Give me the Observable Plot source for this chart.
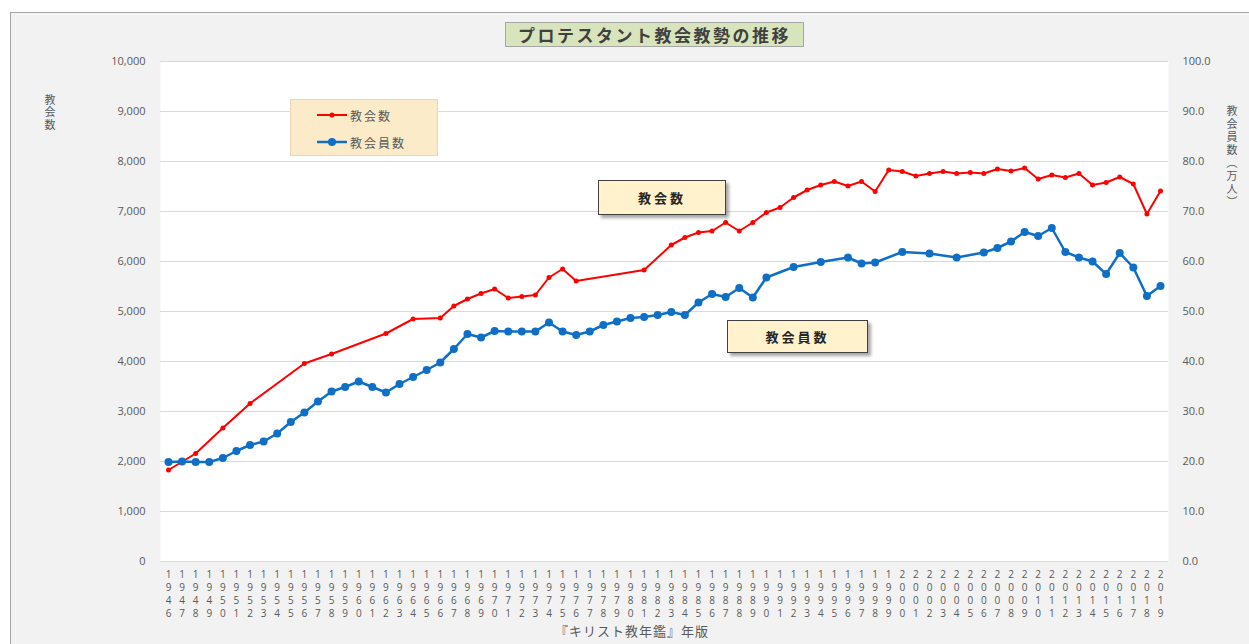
<!DOCTYPE html>
<html><head><meta charset="utf-8">
<script src="https://cdn.jsdelivr.net/npm/d3@7"></script>
<script src="https://cdn.jsdelivr.net/npm/@observablehq/plot@0.6"></script>
<style>
html,body{margin:0;padding:0;background:#fff;}
#wrap{position:relative;width:1249px;height:644px;overflow:hidden;font-family:"Noto Sans CJK JP","Open Sans",sans-serif;}
#bg{position:absolute;left:10px;top:12px;width:1260px;height:660px;background:#f2f2f2;border:1px solid #a6a6a6;}
#chart{position:absolute;left:0;top:0;}
.abs{position:absolute;box-sizing:border-box;}
#title{left:505px;top:22px;width:299px;height:25px;background:#d8e4bc;border:1px solid #a6a6a6;color:#404040;font-weight:bold;font-size:17px;letter-spacing:2.5px;text-align:center;line-height:23px;}
#legend{left:290px;top:99px;width:148px;height:57px;background:#fcebc8;border:1px solid #e6d8b8;color:#595959;font-size:12px;letter-spacing:2px;}
#legend .row{position:absolute;left:26px;height:16px;display:flex;align-items:center;}
#legend svg{margin-right:3px;}
.note{background:#fff2cc;border:1px solid #404040;box-shadow:3px 3px 3px rgba(0,0,0,0.35);color:#262626;font-weight:bold;font-size:13px;letter-spacing:3px;text-align:center;}
.vlab{writing-mode:vertical-rl;text-orientation:upright;font-size:11px;color:#595959;line-height:14px;letter-spacing:1.5px;white-space:nowrap;}
#ylab{left:43px;top:94px;}
#y2lab{left:1225px;top:105px;letter-spacing:2px;}
#xlab{left:555px;top:623px;font-size:13px;line-height:16px;color:#595959;letter-spacing:1px;}
</style></head>
<body>
<div id="wrap">
  <div id="bg"></div>
  <div id="chart"></div>
  <div id="title" class="abs">プロテスタント教会教勢の推移</div>
  <div id="legend" class="abs">
    <div class="row" style="top:7px"><svg width="30" height="8"><line x1="0" y1="4" x2="30" y2="4" stroke="#ff0000" stroke-width="2"/><circle cx="15" cy="4" r="2.5" fill="#ff0000"/></svg>教会数</div>
    <div class="row" style="top:34px"><svg width="30" height="10"><line x1="0" y1="5" x2="30" y2="5" stroke="#0f6fc6" stroke-width="2.5"/><circle cx="15" cy="5" r="4" fill="#0f6fc6"/></svg>教会員数</div>
  </div>
  <div class="abs note" style="left:598px;top:180px;width:128px;height:35px;line-height:33px;">教会数</div>
  <div class="abs note" style="left:727px;top:320px;width:141px;height:33px;line-height:31px;">教会員数</div>
  <div id="ylab" class="abs vlab">教会数</div>
  <div id="y2lab" class="abs vlab">教会員数（万人）</div>
  <div id="xlab" class="abs">『キリスト教年鑑』年版</div>
</div>
<script>
// X axis categories (年版)
const years = d3.range(1946, 2020);
// Y tick values (left: 教会数; right shown as 万人 = value/100)
const yTicks = d3.range(0, 10001, 1000);

// 教会数 series
const churchYears = [1946,1948,1950,1952,1956,1958,1962,1964,1966,1967,1968,1969,1970,1971,1972,1973,1974,1975,1976,1981,
  1983,1984,1985,1986,1987,1988,1989,1990,1991,1992,1993,1994,1995,1996,1997,1998,1999,2000,2001,2002,2003,2004,2005,2006,
  2007,2008,2009,2010,2011,2012,2013,2014,2015,2016,2017,2018,2019];
const churches = [1830,2160,2670,3160,3960,4150,4560,4850,4870,5110,5250,5360,5450,5270,5300,5330,5680,5850,5610,5830,
  6330,6480,6580,6610,6780,6610,6780,6980,7080,7280,7430,7530,7600,7510,7600,7400,7830,7800,7710,7760,7800,7760,7780,7760,
  7850,7810,7870,7650,7730,7680,7760,7530,7580,7690,7550,6950,7410];

// 教会員数 series (万人)
const memberYears = [1946,1947,1948,1949,1950,1951,1952,1953,1954,1955,1956,1957,1958,1959,1960,1961,1962,1963,1964,1965,
  1966,1967,1968,1969,1970,1971,1972,1973,1974,1975,1976,1977,1978,1979,1980,1981,1982,1983,1984,1985,1986,1987,1988,1989,
  1990,1992,1994,1996,1997,1998,2000,2002,2004,2006,2007,2008,2009,2010,2011,2012,2013,2014,2015,2016,2017,2018,2019];
const members = [19.9,20.0,19.9,19.9,20.7,22.1,23.3,24.0,25.6,27.9,29.8,32.0,34.0,34.9,36.0,34.9,33.8,35.5,36.9,38.3,
  39.8,42.5,45.5,44.8,46.1,46.0,46.0,46.0,47.8,46.0,45.3,46.0,47.3,48.0,48.7,48.9,49.3,49.9,49.3,51.8,53.5,52.9,54.7,52.8,
  56.8,58.9,59.9,60.8,59.6,59.8,61.9,61.6,60.8,61.8,62.7,64.0,65.9,65.1,66.7,61.9,60.8,60.0,57.5,61.7,58.8,53.1,55.1];

const red = churchYears.map((y, i) => ({year: y, v: churches[i]}));
const blue = memberYears.map((y, i) => ({year: y, v: members[i] * 100}));

const RED = "#ff0000", BLUE = "#0f6fc6";

const chart = Plot.plot({
  width: 1249, height: 644,
  marginLeft: 160, marginRight: 81, marginTop: 61, marginBottom: 83,
  x: {domain: [1946, 2019], insetLeft: 8, insetRight: 8},
  y: {domain: [0, 10000]},
  style: {background: "transparent", color: "#595959", fontFamily: "'Open Sans','Noto Sans CJK JP',sans-serif"},
  marks: [
    Plot.frame({fill: "white", stroke: null}),
    Plot.gridY(yTicks, {stroke: "#d9d9d9", strokeOpacity: 1, strokeWidth: 1}),
    Plot.axisY(yTicks, {anchor: "left", tickSize: 0, tickPadding: 15, tickFormat: d3.format(","), fontSize: 11, label: null}),
    Plot.axisY(yTicks, {anchor: "right", tickSize: 0, tickPadding: 14, tickFormat: d => (d / 100).toFixed(1), fontSize: 11, label: null}),
    Plot.axisX(years, {tickSize: 0, tickPadding: 7, tickFormat: d => String(d).split("").join("\n"), fontSize: 10, lineHeight: 1.3, label: null}),
    Plot.line(red, {x: "year", y: "v", stroke: RED, strokeWidth: 2}),
    Plot.dot(red, {x: "year", y: "v", fill: RED, r: 2.5}),
    Plot.line(blue, {x: "year", y: "v", stroke: BLUE, strokeWidth: 2.5}),
    Plot.dot(blue, {x: "year", y: "v", fill: BLUE, r: 4})
  ]
});
document.getElementById("chart").appendChild(chart);
</script>
</body></html>
